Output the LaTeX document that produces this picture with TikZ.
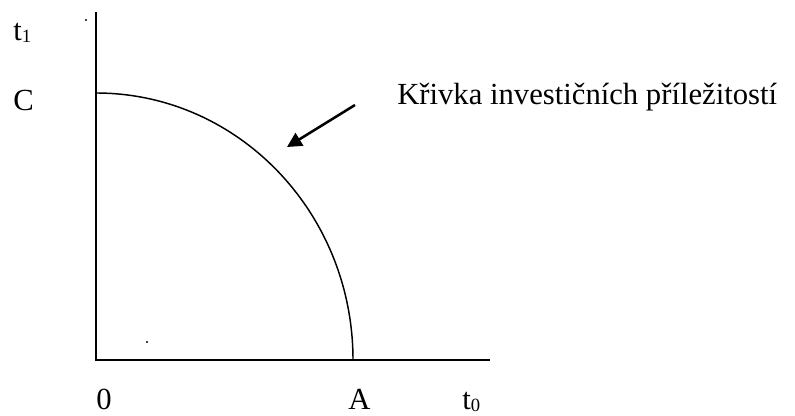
\documentclass[tikz,border=0pt]{standalone}
\usepackage{fontspec}
\setmainfont{Liberation Serif}
\usetikzlibrary{arrows.meta}

\newcommand{\lowidx}[1]{\raisebox{-1.5pt}{\fontsize{14}{14}\selectfont #1}}

\begin{document}
\begin{tikzpicture}[x=0.75pt, y=-0.75pt, font=\fontsize{23}{28}\selectfont,
      axis/.style={line width=1.5pt},
      curve/.style={line width=1.1pt},
      pointer/.style={line width=1.9pt, -{Triangle[length=11pt, width=11pt]}},
      lbl/.style={anchor=base west, inner sep=0pt}]
    \useasboundingbox (0,0) rectangle (795,416);
    % axes
    \coordinate (top) at (96,12);
    \coordinate (origin) at (96,360);
    \coordinate (right) at (490,360);
    \coordinate (cpt) at (96,93);
    \coordinate (apt) at (353,360);
    \draw[axis] (top) -- (origin) -- (right);
    % investment opportunity curve
    \draw[curve] (cpt) arc[start angle=-90, end angle=0, x radius=257, y radius=267];
    % labels
    \node[lbl] (tone) at (13,41) {t\lowidx{1}};
    \node[lbl] (clbl) at (13,111) {C};
    \node[lbl] (zero) at (96,409) {0};
    \node[lbl] (albl) at (348,409) {A};
    \node[lbl] (tzero) at (462,409) {t\lowidx{0}};
    \node[lbl] (name) at (397,105) {Křivka investičních příležitostí};
    \coordinate (tail) at (355,105);
    \coordinate (tip) at (287,147);
    \draw[pointer] (tail) -- (tip);
    % stray dots
    \fill (86,20) circle[radius=1.2];
    \fill (147,342) circle[radius=1.2];
\end{tikzpicture}
\end{document}
